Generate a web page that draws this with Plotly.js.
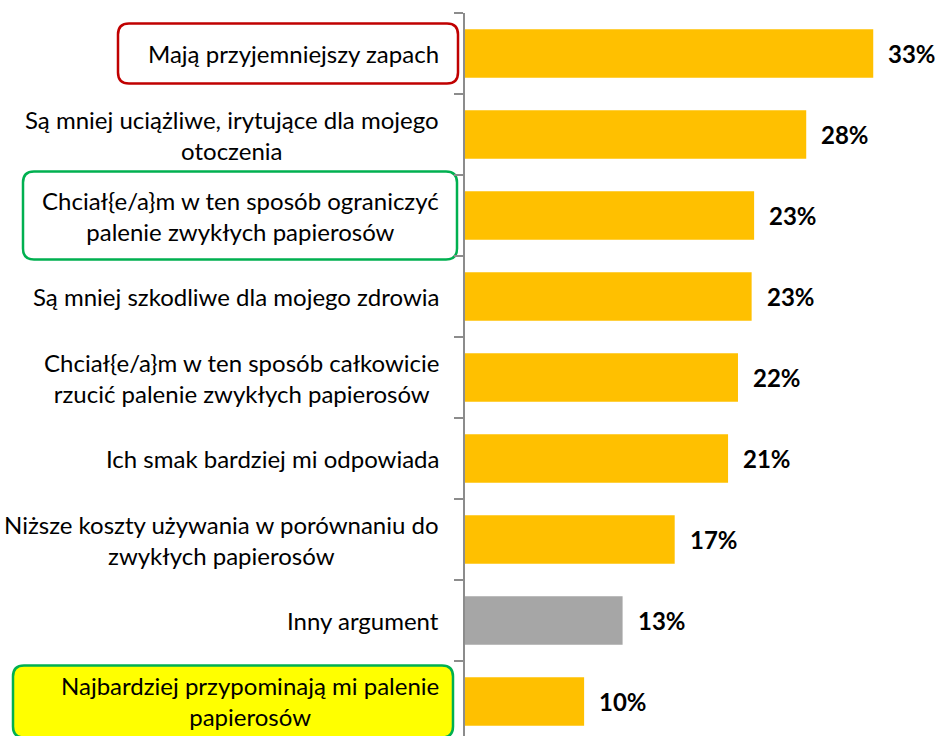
<!DOCTYPE html>
<html>
<head>
<meta charset="utf-8">
<script src="https://cdn.plot.ly/plotly-3.0.1.min.js"></script>
<style>html,body{margin:0;padding:0;background:#fff;}#chart{width:939px;height:736px;}</style>
</head>
<body>
<div id="chart"></div>
<script>
var categories = [
  "Mają przyjemniejszy zapach",
  "Są mniej uciążliwe, irytujące dla mojego<br>otoczenia",
  "Chciał{e/a}m w ten sposób ograniczyć<br>palenie zwykłych papierosów",
  "Są mniej szkodliwe dla mojego zdrowia",
  "Chciał{e/a}m w ten sposób całkowicie<br>rzucić palenie zwykłych papierosów",
  "Ich smak bardziej mi odpowiada",
  "Niższe koszty używania w porównaniu do<br>zwykłych papierosów",
  "Inny argument",
  "Najbardziej przypominają mi palenie<br>papierosów"
];
var values = [32.9, 27.5, 23.3, 23.1, 22.0, 21.2, 16.9, 12.7, 9.6];
var valueLabels = ["33%", "28%", "23%", "23%", "22%", "21%", "17%", "13%", "10%"];
var otherCategory = "Inny argument";

var YELLOW = "#FFC000", GRAY = "#A6A6A6";
var FONT = "Lato, 'Open Sans', sans-serif";

var trace = {
  type: "bar",
  orientation: "h",
  x: values,
  y: categories,
  marker: {color: categories.map(function(c){ return c === otherCategory ? GRAY : YELLOW; })},
  hoverinfo: "none"
};

var annotations = [];
categories.forEach(function(c, i){
  annotations.push({
    xref: "paper", yref: "y", x: 0, y: c, xanchor: "right", yanchor: "middle",
    xshift: -24, text: c, align: "center", showarrow: false,
    font: {family: FONT, size: 24, color: "#000"}
  });
  annotations.push({
    xref: "x", yref: "y", x: values[i], y: c, xanchor: "left", yanchor: "middle",
    xshift: 13, text: "<b>" + valueLabels[i] + "</b>", showarrow: false,
    font: {family: FONT, size: 24, color: "#000"}
  });
});

function roundRect(x0, x1, h, r){
  var y0 = -h/2, y1 = h/2;
  return "M" + (x0 + r) + "," + y0 +
    " L" + (x1 - r) + "," + y0 +
    " Q" + x1 + "," + y0 + " " + x1 + "," + (y0 + r) +
    " L" + x1 + "," + (y1 - r) +
    " Q" + x1 + "," + y1 + " " + (x1 - r) + "," + y1 +
    " L" + (x0 + r) + "," + y1 +
    " Q" + x0 + "," + y1 + " " + x0 + "," + (y1 - r) +
    " L" + x0 + "," + (y0 + r) +
    " Q" + x0 + "," + y0 + " " + (x0 + r) + "," + y0 + " Z";
}
function box(cat, x0, x1, h, line, fill){
  return {
    type: "path", xref: "paper", yref: "y", xsizemode: "pixel", ysizemode: "pixel",
    xanchor: 0, yanchor: cat, path: roundRect(x0, x1, h, 11),
    line: {color: line, width: 2.5}, fillcolor: fill, layer: "below"
  };
}
var shapes = [
  box(categories[0], -347, -7, 60, "#C00000", "rgba(0,0,0,0)"),
  box(categories[2], -442, -8, 88, "#00B050", "rgba(0,0,0,0)"),
  box(categories[8], -452, -12, 72, "#00B050", "#FFFF00")
];

var layout = {
  width: 939, height: 736,
  margin: {l: 465, r: 0, t: 13, b: 0, pad: 0},
  paper_bgcolor: "#fff", plot_bgcolor: "#fff",
  showlegend: false,
  bargap: 0.4,
  xaxis: {range: [0, 38.2], visible: false, fixedrange: true},
  yaxis: {
    type: "category", categoryorder: "array", categoryarray: categories,
    range: [8.426, -0.5], showticklabels: false,
    showline: true, linecolor: "#8C8C8C", linewidth: 2,
    ticks: "outside", tickson: "boundaries", ticklen: 9, tickwidth: 1.5, tickcolor: "#8C8C8C",
    showgrid: false, zeroline: false, fixedrange: true
  },
  annotations: annotations,
  shapes: shapes,
  font: {family: FONT}
};

Plotly.newPlot("chart", [trace], layout, {displayModeBar: false, staticPlot: true});
</script>
</body>
</html>
